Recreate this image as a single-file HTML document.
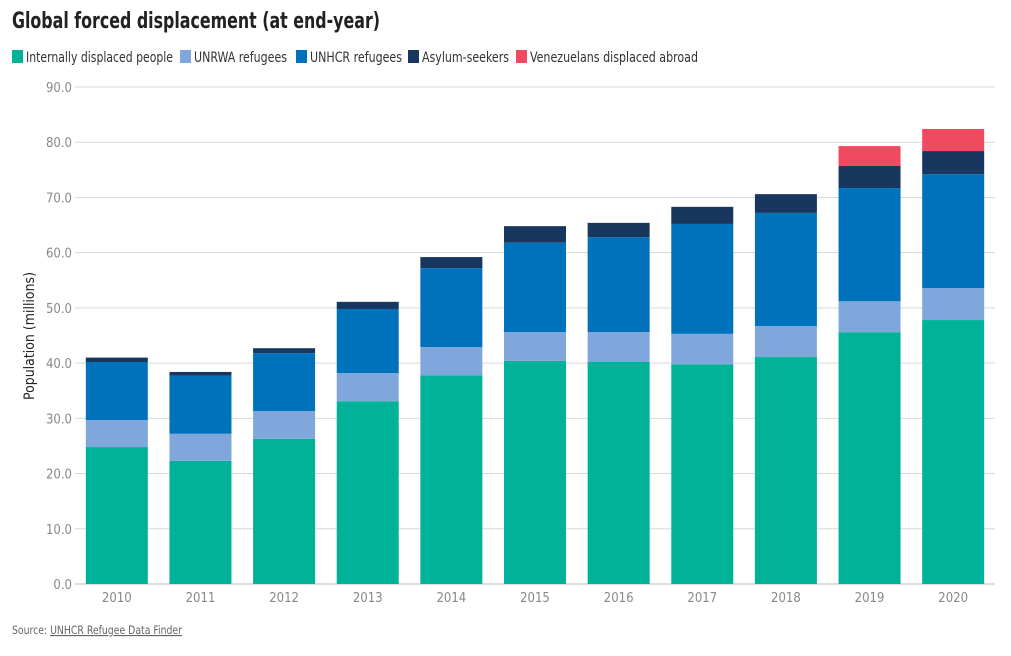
<!DOCTYPE html>
<html><head><meta charset="utf-8">
<style>
body{margin:0;background:#fff;width:1011px;height:652px;overflow:hidden;font-family:"Liberation Sans Narrow","DejaVu Sans Condensed","Liberation Sans",sans-serif;}
svg text{font-family:"Liberation Sans Narrow","DejaVu Sans Condensed","Liberation Sans",sans-serif;}
</style></head>
<body>
<svg id="chart" width="1011" height="652">
<text x="12" y="28" font-size="22" font-weight="bold" fill="#222" textLength="368" lengthAdjust="spacingAndGlyphs">Global forced displacement (at end-year)</text>
<g id="legend"></g>
<g id="grid"></g>
<g id="bars"></g>
<g id="xaxis"></g>
<text transform="translate(34,336) rotate(-90)" text-anchor="middle" font-size="14" fill="#222" textLength="128" lengthAdjust="spacingAndGlyphs">Population (millions)</text>
<text x="12" y="634" font-size="11.5" fill="#666" textLength="170" lengthAdjust="spacingAndGlyphs">Source: <tspan text-decoration="underline">UNHCR Refugee Data Finder</tspan></text>
</svg>
<script>
const years=["2010","2011","2012","2013","2014","2015","2016","2017","2018","2019","2020"];
const idp=[24.8,22.3,26.3,33.1,37.8,40.4,40.2,39.8,41.1,45.6,47.8];
const unrwa=[4.9,4.9,5.0,5.1,5.1,5.2,5.4,5.5,5.6,5.6,5.8];
const unhcr=[10.5,10.5,10.5,11.6,14.3,16.2,17.2,19.9,20.5,20.5,20.6];
const asylum=[0.8,0.7,0.9,1.3,2.0,3.0,2.6,3.1,3.4,4.0,4.2];
const venez=[0,0,0,0,0,0,0,0,0,3.6,4.0];
const yTicks=[0,10,20,30,40,50,60,70,80,90];
const seriesNames=["Internally displaced people","UNRWA refugees","UNHCR refugees","Asylum-seekers","Venezuelans displaced abroad"];
const colors=["#00b398","#7fa7dc","#0072bc","#18375f","#ef4a60"];
const series=[idp,unrwa,unhcr,asylum,venez];
const NS="http://www.w3.org/2000/svg";
const x0=75,x1=995,yBase=584,yTop=87,yMax=90;
const y=v=>yBase-(v/yMax)*(yBase-yTop);
const step=(x1-x0)/years.length,bw=62;
function mk(t,a,p){const e=document.createElementNS(NS,t);for(const k in a)e.setAttribute(k,a[k]);p.appendChild(e);return e;}
const grid=document.getElementById('grid');
yTicks.forEach(t=>{
 const l=mk('line',{x1:x0,x2:x1,y1:y(t),y2:y(t),stroke:t===0?'#bbb':'#d9d9d9','stroke-width':1},grid);
 
 
 const tx=mk('text',{x:72,y:y(t)+5,'text-anchor':'end','font-size':13,fill:'#888'},grid);
 tx.textContent=t.toFixed(1);
 
 
});
const bars=document.getElementById('bars'),xa=document.getElementById('xaxis');
years.forEach((yr,i)=>{
 const cx=x0+step*(i+0.5);let acc=0;
 series.forEach((s,j)=>{
  const v=s[i];if(!v)return;
  const r=mk('rect',{x:cx-bw/2,y:y(acc+v),width:bw,height:y(acc)-y(acc+v),fill:colors[j]},bars);
  
  
  acc+=v;
 });
 const t=mk('text',{x:cx,y:602,'text-anchor':'middle','font-size':13,fill:'#888'},xa);
 t.textContent=yr;
 
 
});
const lg=document.getElementById('legend');
const lx=[12,180,296,408,516];
const lw=[147,93,92,87,168];
seriesNames.forEach((n,j)=>{
 const r=mk('rect',{x:lx[j],y:50,width:11,height:13,fill:colors[j]},lg);
 
 
 const t=mk('text',{x:lx[j]+14,y:62,'font-size':14,fill:'#333',textLength:lw[j],lengthAdjust:'spacingAndGlyphs'},lg);
 t.textContent=n;
 
 
});
</script>
</body></html>
